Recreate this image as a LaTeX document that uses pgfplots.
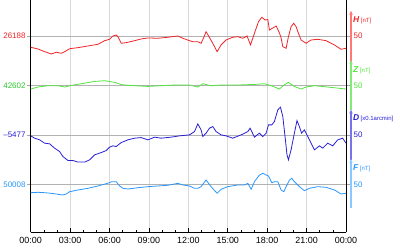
\documentclass[border=0pt]{standalone}
\usepackage{fontspec}
\setmainfont{Liberation Sans}
\usepackage{pgfplots}
\usepackage{pgfplotstable}
\pgfplotsset{compat=1.18}
\usetikzlibrary{arrows.meta}
\definecolor{cH}{RGB}{240,35,40}
\definecolor{cZ}{RGB}{80,230,60}
\definecolor{cD}{RGB}{40,30,215}
\definecolor{cF}{RGB}{40,150,255}
\definecolor{aH}{RGB}{255,120,120}
\definecolor{aZ}{RGB}{130,235,120}
\definecolor{aD}{RGB}{120,115,235}
\definecolor{aF}{RGB}{140,200,255}
\definecolor{tZ}{RGB}{40,200,40}

\pgfplotstableread{
t v
0 -22.8
0.56 -26.3
1.06 -31.7
1.57 -36.4
1.95 -32.9
2.33 -35
2.59 -31.7
2.97 -25.7
3.6 -23.6
4.36 -20.2
5.12 -16.8
5.63 -9.5
6.0 -6.7
6.26 0
6.51 2
6.64 -1.4
6.89 -14.7
7.27 -13.5
7.91 -9.5
8.41 -6
8.92 -4
9.68 -4.6
10.44 -2.6
11.2 0
11.58 -4.6
12.09 -9.5
12.34 -11.5
12.72 -11.5
12.97 -14.7
13.18 -2.6
13.35 8.7
13.54 0
13.86 -14.7
14.19 -31.7
14.49 -18.2
14.87 -8.1
15.38 -2.6
15.76 -1.4
16.14 -4.6
16.47 0
16.73 -18.2
17.03 5.5
17.34 28.9
17.59 37.8
17.84 32.3
18.05 33.3
18.17 12.1
18.43 16.2
18.69 20.2
18.94 5.5
19.06 -4
19.19 -21.6
19.44 -24.8
19.62 -1.4
19.82 18.8
20.02 25.7
20.2 18.8
20.38 5.5
20.58 -8.1
20.96 -14.7
21.34 -8.1
21.85 -6.7
22.48 -9.5
23.12 -18.2
23.62 -26.9
24 -24.8
}\Hdata

\pgfplotstableread{
t v
0 -7.3
0.56 -3.2
1.32 -0.6
2.08 -0.6
2.59 -3.2
3.09 0
3.85 3.4
4.87 8.1
5.63 9.5
5.96 8.1
6.42 6.1
6.93 1.4
7.91 -0.6
8.92 -2
9.93 -0.6
10.95 0.8
12.09 0.8
12.72 -3.2
13.1 3.4
13.73 -0.6
14.49 0.8
15.76 0.8
17.03 2
17.79 3.4
18.17 0.8
18.55 -3.2
18.93 -7.3
19.31 1.4
19.62 6.1
20.07 -2
20.58 -7.3
20.96 -3.2
21.6 -0.6
22.6 -3.2
24 -7.3
}\Zdata

\pgfplotstableread{
t v
0 -2
0.3 -6.7
0.68 -10.1
1.06 -16.8
1.44 -18.2
1.82 -26.9
2.2 -33.7
2.45 -43.8
2.84 -51.9
3.22 -51.9
3.6 -55.1
4.11 -55.1
4.49 -50.5
4.87 -40.4
5.37 -35.8
5.75 -31.7
6.0 -25
6.26 -22.2
6.51 -23.6
6.89 -15.6
7.4 -10.1
7.91 -6.7
8.41 -5.5
8.92 -10.1
9.43 -4.6
9.93 -6.7
10.69 -4.6
11.33 -2
12.09 0
12.47 6.7
12.72 22.2
12.97 10.1
13.1 -3.4
13.35 3.4
13.61 13.5
13.86 16.8
14.11 6.7
14.49 0
14.87 -2
15.38 -6.7
16.02 0
16.53 6.7
16.7 13.5
17.03 -4.6
17.41 3.4
17.67 -3.4
17.92 3.4
18.1 20.2
18.35 20.2
18.55 26.9
18.81 50.5
19.01 56
19.19 37
19.36 -3.4
19.51 -40.4
19.62 -50.5
19.82 -30.3
20.07 3.4
20.27 28.9
20.45 16.8
20.62 3.4
20.83 10.1
21.22 -10.1
21.6 -30.3
21.98 -22.2
22.23 -26.9
22.61 -16.8
22.99 -22.2
23.37 -10.1
23.75 -6.7
24 -16.8
}\Ddata

\pgfplotstableread{
t v
0 -17
0.56 -16.2
1.06 -17
1.57 -18.2
2.08 -20.2
2.45 -21.6
2.71 -19.6
2.97 -14.9
3.6 -11.5
4.36 -8.1
5.12 -3.4
6.0 3.2
6.16 5.3
6.51 5.3
6.77 -3.4
7.02 -8.1
7.4 -9.5
8.16 -6.9
8.92 -4.8
9.68 -3.4
10.44 -2
11.2 2
11.58 -1.4
12.09 -3.4
12.47 -8.1
12.72 -8.1
12.97 -4.8
13.35 8.7
13.73 -4.8
14.19 -18.2
14.49 -10.1
15.0 -4.8
15.76 -1.4
16.27 -1.4
16.53 2
16.78 -10.1
17.03 5.3
17.41 18.8
17.67 22.2
17.92 18.8
18.1 16.8
18.35 3.2
18.55 5.3
18.81 5.3
19.06 -11.5
19.27 -14.9
19.44 -4.8
19.7 8.7
19.87 12.1
20.07 5.3
20.45 -4.8
20.83 -12.9
21.22 -8.1
21.85 -4.8
22.48 -6.1
23.12 -11.5
23.62 -19.6
24 -18.2
}\Fdata

\begin{document}
\begin{tikzpicture}
\useasboundingbox (0,0) rectangle (400bp,250bp);
\begin{axis}[
  at={(30.7bp,17.7bp)}, anchor=south west,
  scale only axis, width=315.3bp, height=232.3bp,
  xmin=0, xmax=24, ymin=-397.1, ymax=72.8,
  axis x line=bottom, axis y line=box,
  axis line style={-, black, line width=1pt},
  clip=false,
  xtick={0,3,...,24},
  xticklabels={00:00,03:00,06:00,09:00,12:00,15:00,18:00,21:00,00:00},
  minor x tick num=2,
  xtick pos=bottom,
  xtick align=inside,
  x tick style={black, line width=0.6pt},
  major tick length=4bp, minor tick length=2.5bp,
  ytick={-300,-200,-100,0},
  yticklabels={\textcolor{cF}{50008},\textcolor{cD}{\textendash5477},\textcolor{tZ}{42602},\textcolor{cH}{26188}},
  ytick pos=both, yticklabel pos=left,
  ytick align=outside,
  y tick style={gray!70, line width=0.6pt},
  grid=major,
  x grid style={gray!30, line width=0.8pt},
  y grid style={gray!60, line width=0.6pt},
  /pgf/number format/assume math mode=true,
  x tick label style={font=\fontsize{9}{10}\selectfont, yshift=-1bp},
  y tick label style={font=\fontsize{8}{9}\selectfont, inner sep=1bp},
]
\addplot[cH, line width=0.8pt] table[x=t, y expr=\thisrow{v}] {\Hdata};
\addplot[cZ, line width=0.8pt] table[x=t, y expr=\thisrow{v}-100] {\Zdata};
\addplot[cD, line width=0.8pt] table[x=t, y expr=\thisrow{v}-200] {\Ddata};
\addplot[cF, line width=0.8pt] table[x=t, y expr=\thisrow{v}-300] {\Fdata};

\draw[-{Stealth[length=4bp,width=3.5bp]}, line width=1.4bp, aH] ([xshift=5bp]axis cs:24,-52) -- ([xshift=5bp]axis cs:24,51);
\draw[-{Stealth[length=4bp,width=3.5bp]}, line width=1.4bp, aZ] ([xshift=5bp]axis cs:24,-150) -- ([xshift=5bp]axis cs:24,-49);
\draw[-{Stealth[length=4bp,width=3.5bp]}, line width=1.4bp, aD] ([xshift=5bp]axis cs:24,-250) -- ([xshift=5bp]axis cs:24,-149);
\draw[-{Stealth[length=4bp,width=3.5bp]}, line width=1.4bp, aF] ([xshift=5bp]axis cs:24,-348) -- ([xshift=5bp]axis cs:24,-249);

\node[anchor=west, inner sep=0, text=cH, font=\fontsize{8}{9}\selectfont] at ([xshift=7.5bp]axis cs:24,0) {50};
\node[anchor=west, inner sep=0, text=cZ, font=\fontsize{8}{9}\selectfont] at ([xshift=7.5bp]axis cs:24,-100) {50};
\node[anchor=west, inner sep=0, text=cD, font=\fontsize{8}{9}\selectfont] at ([xshift=7.5bp]axis cs:24,-200) {50};
\node[anchor=west, inner sep=0, text=cF, font=\fontsize{8}{9}\selectfont] at ([xshift=7.5bp]axis cs:24,-300) {50};

\node[anchor=west, inner sep=0, text=cH] at ([xshift=7bp]axis cs:24,31) {\fontsize{8.5}{9}\selectfont\textbf{\textit{H}}\,\fontsize{6}{7}\selectfont[nT]};
\node[anchor=west, inner sep=0, text=cZ] at ([xshift=7bp]axis cs:24,-69) {\fontsize{8.5}{9}\selectfont\textbf{\textit{Z}}\,\fontsize{6}{7}\selectfont[nT]};
\node[anchor=west, inner sep=0, text=cD] at ([xshift=7bp]axis cs:24,-166) {\fontsize{8.5}{9}\selectfont\textbf{\textit{D}}\,\fontsize{6}{7}\selectfont[x0.1arcmin]};
\node[anchor=west, inner sep=0, text=cF] at ([xshift=7bp]axis cs:24,-268) {\fontsize{8.5}{9}\selectfont\textbf{\textit{F}}\,\fontsize{6}{7}\selectfont[nT]};
\end{axis}
\end{tikzpicture}
\end{document}
